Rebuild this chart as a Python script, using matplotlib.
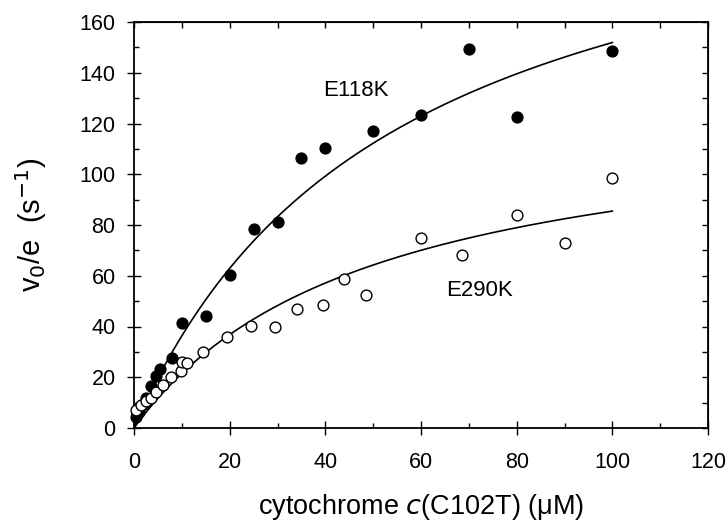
import numpy as np
import matplotlib
matplotlib.use("Agg")
import matplotlib.pyplot as plt
from matplotlib.ticker import MultipleLocator

plt.rcParams['font.family'] = ['Liberation Sans', 'DejaVu Sans']

# E118K (filled circles)
e118k_conc = [0.5, 1, 2, 2.5, 3.5, 4.5, 5.5, 8, 10, 15, 20, 25, 30, 35, 40, 50, 60, 70, 80, 100]
e118k_rate = [4.5, 6.5, 9.5, 12, 16.5, 20.5, 23.3, 27.5, 41.2, 44.3, 60.3, 78.5, 81.0, 106.3,
              110.4, 117.2, 123.4, 149.3, 122.5, 148.4]

# E290K (open circles)
e290k_conc = [0.5, 1.5, 2.5, 3.5, 4.5, 6, 7.7, 9.8, 10, 11, 14.5, 19.5, 24.5, 29.5, 34, 39.5,
              44, 48.5, 60, 68.5, 80, 90, 100]
e290k_rate = [7.2, 9.0, 10.5, 11.8, 14.0, 17.0, 20.0, 22.4, 26.0, 25.5, 30.0, 35.8, 40.2, 39.8,
              47.0, 48.5, 58.7, 52.5, 74.8, 68.2, 84.0, 72.8, 98.7]

# Michaelis-Menten fit parameters (Vmax, Km)
e118k_fit = (235.0, 54.7)
e290k_fit = (127.7, 49.4)

fig = plt.figure(figsize=(7.28, 5.23), dpi=100)
ax = fig.add_axes([134 / 728, 1 - 428 / 523, (708 - 134) / 728, (428 - 22) / 523])

xs = np.linspace(0, 100, 300)
for vmax, km in (e118k_fit, e290k_fit):
    ax.plot(xs, vmax * xs / (km + xs), color='black', lw=1.2, zorder=2)

ax.plot(e118k_conc, e118k_rate, 'o', ms=7.8, mfc='black', mec='black', mew=1.0,
        linestyle='none', zorder=3, clip_on=False)
ax.plot(e290k_conc, e290k_rate, 'o', ms=7.8, mfc='white', mec='black', mew=1.0,
        linestyle='none', zorder=4, clip_on=False)

ax.text(39.5, 133, 'E118K', fontsize=16, va='center', ha='left')
ax.text(65.2, 54, 'E290K', fontsize=16, va='center', ha='left')

ax.set_xlim(0, 120)
ax.set_ylim(0, 160)
ax.xaxis.set_major_locator(MultipleLocator(20))
ax.xaxis.set_minor_locator(MultipleLocator(10))
ax.yaxis.set_major_locator(MultipleLocator(20))
ax.yaxis.set_minor_locator(MultipleLocator(10))
ax.tick_params(which='major', direction='inout', length=10.5, width=1.0, labelsize=15.5)
ax.tick_params(axis='y', which='major', pad=8)
ax.tick_params(axis='x', which='major', pad=12)
ax.tick_params(which='minor', direction='in', length=3.5, width=1.0)
for s in ax.spines.values():
    s.set_linewidth(1.3)

# ticks on the top and right frame, pointing inward
top = ax.secondary_xaxis('top')
top.set_xticks(np.arange(0, 121, 10))
top.tick_params(direction='in', length=4, width=1.0, labeltop=False)
right = ax.secondary_yaxis('right')
right.set_yticks(np.arange(0, 161, 10))
right.tick_params(direction='in', length=4, width=1.0, labelright=False)

ax.set_xlabel('cytochrome $\\it{c}$(C102T) (\u03bcM)', fontsize=19.5)
ax.set_ylabel('v$_0$/e  (s$^{-1}$)', fontsize=21)
ax.xaxis.set_label_coords(0.5, -0.158)
ax.yaxis.set_label_coords(-0.148, 0.5)

fig.savefig('out.png', dpi=100)
